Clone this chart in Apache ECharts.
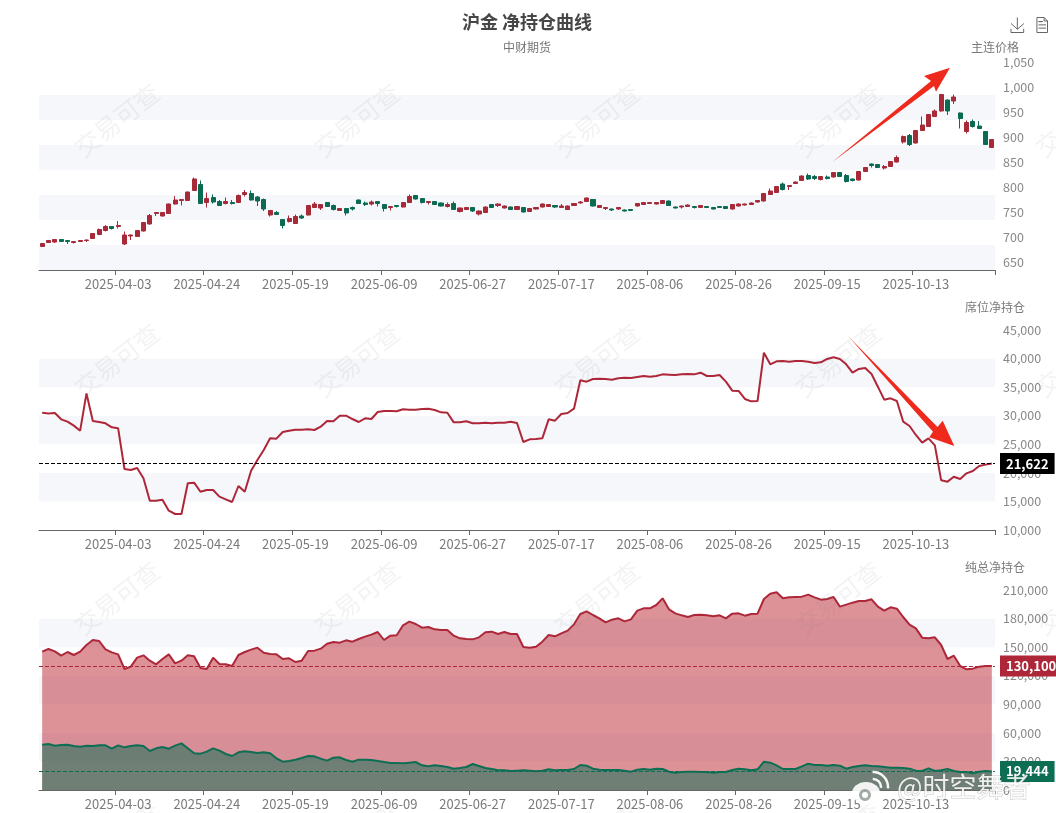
<!DOCTYPE html>
<html>
<head>
<meta charset="utf-8">
<title>沪金 净持仓曲线</title>
<script src="https://cdn.jsdelivr.net/npm/echarts@6/dist/echarts.min.js"></script>
<style>
    html, body { margin: 0; padding: 0; background: #fff; overflow: hidden; }
    #main { width: 1056px; height: 813px; }
</style>
</head>
<body>
<div id="main"></div>
<script>
const dates = [
    '2025-03-18','2025-03-19','2025-03-20','2025-03-21','2025-03-24','2025-03-25','2025-03-26','2025-03-27','2025-03-28','2025-03-31',
    '2025-04-01','2025-04-02','2025-04-03','2025-04-07','2025-04-08','2025-04-09','2025-04-10','2025-04-11','2025-04-14','2025-04-15',
    '2025-04-16','2025-04-17','2025-04-18','2025-04-21','2025-04-22','2025-04-23','2025-04-24','2025-04-25','2025-04-28','2025-04-29',
    '2025-04-30','2025-05-06','2025-05-07','2025-05-08','2025-05-09','2025-05-12','2025-05-13','2025-05-14','2025-05-15','2025-05-16',
    '2025-05-19','2025-05-20','2025-05-21','2025-05-22','2025-05-23','2025-05-26','2025-05-27','2025-05-28','2025-05-29','2025-05-30',
    '2025-06-03','2025-06-04','2025-06-05','2025-06-06','2025-06-09','2025-06-10','2025-06-11','2025-06-12','2025-06-13','2025-06-16',
    '2025-06-17','2025-06-18','2025-06-19','2025-06-20','2025-06-23','2025-06-24','2025-06-25','2025-06-26','2025-06-27','2025-06-30',
    '2025-07-01','2025-07-02','2025-07-03','2025-07-04','2025-07-07','2025-07-08','2025-07-09','2025-07-10','2025-07-11','2025-07-14',
    '2025-07-15','2025-07-16','2025-07-17','2025-07-18','2025-07-21','2025-07-22','2025-07-23','2025-07-24','2025-07-25','2025-07-28',
    '2025-07-29','2025-07-30','2025-07-31','2025-08-01','2025-08-04','2025-08-05','2025-08-06','2025-08-07','2025-08-08','2025-08-11',
    '2025-08-12','2025-08-13','2025-08-14','2025-08-15','2025-08-18','2025-08-19','2025-08-20','2025-08-21','2025-08-22','2025-08-25',
    '2025-08-26','2025-08-27','2025-08-28','2025-08-29','2025-09-01','2025-09-02','2025-09-03','2025-09-04','2025-09-05','2025-09-08',
    '2025-09-09','2025-09-10','2025-09-11','2025-09-12','2025-09-15','2025-09-16','2025-09-17','2025-09-18','2025-09-19','2025-09-22',
    '2025-09-23','2025-09-24','2025-09-25','2025-09-26','2025-09-29','2025-09-30','2025-10-09','2025-10-10','2025-10-13','2025-10-14',
    '2025-10-15','2025-10-16','2025-10-17','2025-10-20','2025-10-21','2025-10-22','2025-10-23','2025-10-24','2025-10-27','2025-10-28',
    '2025-10-29'
];

// open, close, low, high
const candles = [
    [697,703,696,704],[705,709,704,710],[706,711,704,712],[711,707,706,712],[709,707,702,710],[705,707,703,708],[707,709,706,710],[709,710,706,711],[713,723,712,724],[721,731,720,733],
    [729,737,727,740],[737,733,731,738],[737,739,733,748],[702,720,700,727],[718,720,710,721],[717,729,716,730],[728,745,727,746],[742,759,741,762],[763,765,758,766],[758,765,757,766],
    [763,782,762,783],[782,790,781,798],[789,791,779,792],[789,806,788,807],[809,832,808,835],[821,783,782,829],[785,793,775,805],[795,786,783,801],[787,779,778,790],[783,787,781,795],
    [785,783,781,790],[785,799,784,801],[801,805,797,810],[803,790,789,809],[796,788,778,798],[791,772,768,793],[760,769,757,770],[765,761,760,768],[751,739,733,752],[747,753,745,759],
    [743,757,742,761],[758,754,752,761],[760,779,759,780],[775,782,774,786],[774,781,770,782],[785,777,776,786],[779,771,769,781],[769,773,768,774],[773,764,759,774],[775,772,769,777],
    [790,783,782,791],[784,781,778,787],[782,786,779,789],[787,783,777,788],[781,773,767,782],[775,777,769,778],[779,777,775,780],[776,785,775,786],[785,797,784,801],[799,792,791,800],
    [793,785,783,794],[785,787,781,788],[787,781,780,788],[784,778,777,785],[777,781,775,785],[783,771,770,787],[767,774,765,775],[771,775,770,776],[775,768,766,776],[762,768,759,769],
    [765,776,764,777],[781,775,774,782],[779,782,776,783],[774,778,773,779],[776,771,770,777],[771,777,770,778],[775,766,765,776],[767,773,766,774],[772,775,771,776],[776,782,775,783],
    [777,781,776,782],[779,776,774,780],[775,778,774,782],[771,778,770,779],[779,783,778,784],[784,786,783,788],[787,794,786,795],[791,778,777,792],[775,779,774,780],[773,775,770,776],
    [772,770,768,773],[772,775,770,776],[770,768,767,771],[771,769,768,772],[778,783,777,784],[781,785,780,786],[783,785,782,786],[782,785,781,786],[783,789,782,790],[788,779,778,789],
    [776,774,773,777],[776,778,773,779],[777,780,776,781],[777,775,773,778],[775,779,774,780],[777,775,774,778],[775,772,771,776],[777,775,774,778],[777,773,772,778],[772,781,771,782],
    [778,782,777,783],[780,782,779,783],[781,784,780,785],[786,789,785,790],[788,803,787,804],[801,808,800,813],[805,817,804,818],[822,811,809,825],[817,819,810,820],[823,826,822,827],
    [829,838,828,839],[839,832,830,843],[837,833,830,840],[831,837,829,838],[836,833,831,839],[836,845,835,846],[845,837,836,846],[839,827,825,842],[832,829,827,833],[830,847,829,848],
    [847,855,846,856],[862,859,855,863],[861,855,854,862],[854,857,851,860],[857,867,856,868],[866,875,865,879],[906,917,903,919],[919,901,898,922],[904,929,903,930],[929,940,928,957],
    [937,961,936,962],[957,968,956,971],[968,1001,967,1002],[990,968,960,991],[988,996,982,1001],[964,953,933,965],[927,945,923,949],[947,937,935,951],[938,933,932,948],[927,901,900,928],
    [895,911,894,912]
];

const seatNet = [
    30530,30400,30480,29370,28960,28260,27380,33900,29080,28900,
    28670,27970,27790,20680,20500,20850,19040,15130,15130,15300,
    13380,12800,12800,18170,18280,16700,17000,17000,15830,15370,
    14900,17700,16700,20380,22250,24000,26040,25980,27150,27380,
    27560,27560,27620,27500,28080,29080,29020,30010,30010,29420,
    28900,29540,29420,30650,30830,30830,30770,31120,31060,31060,
    31180,31230,31000,30590,30530,28840,28840,29020,28670,28670,
    28780,28670,28780,28780,28960,28730,25400,25870,25930,26040,
    29370,29130,30300,30480,31230,36190,35960,36420,36480,36420,
    36300,36540,36660,36600,36780,36950,36830,36950,37240,37180,
    37120,37240,37300,37240,37530,36950,36950,37130,35960,34380,
    34330,32930,32520,32580,41030,39000,39520,39580,39460,39580,
    39580,39460,39230,39340,39930,40220,39930,39000,37530,38180,
    38350,37300,35080,32810,33040,32580,28960,28200,26630,25280,
    26040,24820,18690,18460,19330,18930,19920,20330,21200,21440,
    21622
];

const totalNetLong = [
    145250,148050,145600,141050,144900,141750,145250,152250,157500,156450,
    147700,144550,142450,127050,129500,138950,141400,135800,131950,137550,
    142450,132990,135800,141400,140350,128100,127050,138950,132300,131950,
    130200,141750,144900,147350,149450,144200,142800,142450,137550,138250,
    134400,135800,145950,146300,148400,153650,155400,154700,157150,155750,
    158550,161000,163100,165900,157500,162050,162400,172900,176750,174300,
    170450,171150,168700,168000,168000,162050,159250,158550,158200,160300,
    165550,166250,163800,165900,163800,163800,150150,149450,150500,155750,
    162750,161350,164500,167300,173950,184800,187600,183750,180250,176050,
    178850,180250,177100,179200,188300,190750,190750,194250,201250,189700,
    185500,183400,181650,183750,184100,183400,182350,183400,180250,185150,
    185500,183050,184800,185150,200550,206150,207550,201250,202300,202650,
    203000,205100,202300,199850,200550,202650,192500,194600,196700,198450,
    198450,200200,192500,188300,191800,190400,181650,173600,169750,159950,
    159250,160300,152250,137550,141050,130200,126700,127400,129500,130200,
    130100
];

const totalNetShort = [
    47600,48300,46550,47250,47600,46200,45500,46550,46200,46900,
    46900,43400,46900,44800,46200,46900,46200,40950,43750,45150,
    43400,46550,48990,43750,38500,38150,40250,43750,41300,37800,
    35700,39550,40600,39900,38850,39550,38500,33250,29750,30450,
    31850,33600,35700,35350,32900,30800,33950,34300,31500,29600,
    31850,31850,31500,30450,29400,28350,28350,28000,28700,29400,
    25900,24850,25900,25200,24150,22400,23100,24150,27300,25200,
    23100,22050,20650,20650,19950,20300,20650,20300,19600,20300,
    21700,20650,21000,21000,22050,26250,25550,22400,21350,21000,
    21000,21000,20300,19250,21350,22050,21350,22400,22050,19250,
    18200,18900,19250,19250,18900,18900,18200,18900,18900,21000,
    22400,21700,20650,21700,29750,28700,25900,22050,22050,22050,
    24850,27650,26250,26250,25550,26250,25550,22400,24150,25200,
    25900,25200,24850,24150,23450,23450,23100,22400,20300,19950,
    22750,19950,20650,22050,19950,18900,18900,17500,19250,19950,
    19444
];

const seatNetLast = 21622;
const longLast = 130100;
const shortLast = 19444;

const UP = '#a62a38';
const DOWN = '#0b6b52';
const LINE_RED = '#ae2739';
const LINE_GREEN = '#0d6e54';
const BAND = '#f5f7fb';
const TEXT = '#7a7a7a';
const FONT = '"Noto Sans CJK SC", sans-serif';

// date labels are every 14 bars starting from the 13th
function showDate(index) {
    return index >= 12 && (index - 12) % 14 === 0;
}

function makeXAxis(gridIndex) {
    return {
        type: 'category',
        gridIndex: gridIndex,
        data: dates,
        axisLine: {lineStyle: {color: '#666', width: 1}},
        axisTick: {show: true, length: 5, lineStyle: {color: '#666'}, interval: showDate},
        axisLabel: {color: TEXT, fontSize: 13, fontFamily: FONT, margin: 8, interval: showDate},
        splitLine: {show: false}
    };
}

function makeYAxis(gridIndex, name, min, max, interval, bands, labelAlign) {
    return {
        type: 'value',
        gridIndex: gridIndex,
        position: 'right',
        name: name,
        nameLocation: 'end',
        nameGap: 17,
        nameTextStyle: {color: TEXT, fontSize: 12, fontFamily: FONT},
        min: min,
        max: max,
        interval: interval,
        axisLine: {show: false},
        axisTick: {show: false},
        axisLabel: {color: '#888', fontSize: 12.5, fontFamily: FONT, margin: 8, verticalAlign: labelAlign, lineHeight: 16},
        splitLine: {show: false},
        splitArea: {show: true, areaStyle: {color: bands}}
    };
}

function dashLine(value, color, labelColor) {
    return {
        silent: true,
        symbol: 'none',
        animation: false,
        lineStyle: {color: color, type: 'dashed', width: 1},
        label: {
            position: 'end',
            distance: 5,
            color: '#fff',
            fontWeight: 'bold',
            fontSize: 13,
            fontFamily: FONT,
            backgroundColor: labelColor,
            padding: [4, 6],
            formatter: function (p) {
                return p.value.toLocaleString('en-US');
            }
        },
        data: [{yAxis: value}]
    };
}

// annotations and watermarks sit on top of the chart, they are not data
const markX = [117, 357, 597, 838, 1078];
const markY = [120, 360, 598, 838];
let graphics = [];
for (let y of markY) {
    for (let x of markX) {
        graphics.push({
            type: 'text', x: x, y: y, rotation: 0.67, silent: true, z: 50,
            style: {
                text: '交易可查', align: 'center', verticalAlign: 'middle',
                fontSize: 25, fontFamily: FONT, fill: 'rgba(120,120,120,0.09)'
            }
        });
    }
}
graphics.push({
    type: 'polygon', silent: true, z: 60,
    shape: {points: [[950, 67.7], [924, 76], [931, 81], [832, 162.3], [934, 86], [936, 91.7]]},
    style: {fill: '#ee2a1c'}
});
graphics.push({
    type: 'polygon', silent: true, z: 60,
    shape: {points: [[954.3, 446], [942.7, 420.7], [937.5, 427], [848, 336], [933, 431.7], [929.3, 437.3]]},
    style: {fill: '#ee2a1c'}
});
// weibo stamp, bottom right
graphics.push({type: 'ellipse', silent: true, z: 70, shape: {cx: 866, cy: 793, rx: 14, ry: 11}, style: {fill: 'rgba(255,255,255,0.9)'}});
graphics.push({type: 'ring', silent: true, z: 71, shape: {cx: 865, cy: 795, r: 6, r0: 3}, style: {fill: 'rgba(90,100,90,0.55)'}});
graphics.push({type: 'arc', silent: true, z: 70, shape: {cx: 873, cy: 787, r: 8, startAngle: -1.6, endAngle: 0.1}, style: {stroke: 'rgba(255,255,255,0.95)', lineWidth: 2.5, fill: null}});
graphics.push({type: 'arc', silent: true, z: 70, shape: {cx: 873, cy: 787, r: 15, startAngle: -1.6, endAngle: 0.1}, style: {stroke: 'rgba(255,255,255,0.95)', lineWidth: 2.5, fill: null}});
graphics.push({
    type: 'text', x: 897, y: 787, silent: true, z: 72,
    style: {
        text: '@时空舞者', align: 'left', verticalAlign: 'middle',
        fontSize: 27, fontFamily: FONT, fill: 'rgba(255,255,255,0.88)',
        stroke: 'rgba(90,90,90,0.35)', lineWidth: 1
    }
});

let chart = echarts.init(document.getElementById('main'), null, {renderer: 'canvas'});
chart.setOption({
    animation: false,
    backgroundColor: '#fff',
    title: {
        text: '沪金 净持仓曲线',
        subtext: '中财期货',
        left: 522,
        textAlign: 'center',
        top: 8,
        itemGap: 10,
        textStyle: {color: '#464646', fontSize: 18, fontWeight: 'bold', fontFamily: FONT},
        subtextStyle: {color: '#777', fontSize: 12, fontFamily: FONT}
    },
    toolbox: {
        right: -9,
        top: 0,
        itemSize: 15,
        itemGap: 8,
        iconStyle: {borderColor: '#666'},
        feature: {saveAsImage: {}, dataView: {}}
    },
    grid: [
        {left: 39, right: 61, top: 70, height: 200},
        {left: 39, right: 61, top: 330, height: 200},
        {left: 39, right: 61, top: 590, height: 200}
    ],
    xAxis: [makeXAxis(0), makeXAxis(1), makeXAxis(2)],
    yAxis: [
        makeYAxis(0, '主连价格', 650, 1050, 50, [BAND, '#fff'], 'bottom'),
        makeYAxis(1, '席位净持仓', 10000, 45000, 5000, ['#fff', BAND], 'middle'),
        makeYAxis(2, '纯总净持仓', 0, 210000, 30000, ['#fff', BAND], 'middle')
    ],
    series: [
        {
            type: 'candlestick',
            xAxisIndex: 0,
            yAxisIndex: 0,
            data: candles,
            barWidth: '72%',
            itemStyle: {color: UP, color0: DOWN, borderColor: UP, borderColor0: DOWN, borderWidth: 1}
        },
        {
            type: 'line',
            xAxisIndex: 1,
            yAxisIndex: 1,
            data: seatNet,
            showSymbol: false,
            lineStyle: {color: LINE_RED, width: 2},
            markLine: dashLine(seatNetLast, '#000', '#000')
        },
        {
            type: 'line',
            xAxisIndex: 2,
            yAxisIndex: 2,
            data: totalNetLong,
            showSymbol: false,
            lineStyle: {color: LINE_RED, width: 2},
            areaStyle: {color: 'rgb(190,50,60)', opacity: 0.53},
            markLine: dashLine(longLast, LINE_RED, LINE_RED)
        },
        {
            type: 'line',
            xAxisIndex: 2,
            yAxisIndex: 2,
            data: totalNetShort,
            showSymbol: false,
            lineStyle: {color: LINE_GREEN, width: 2},
            areaStyle: {color: 'rgb(10,110,85)', opacity: 0.52},
            markLine: dashLine(shortLast, LINE_GREEN, LINE_GREEN)
        }
    ],
    graphic: graphics
});
</script>
</body>
</html>
